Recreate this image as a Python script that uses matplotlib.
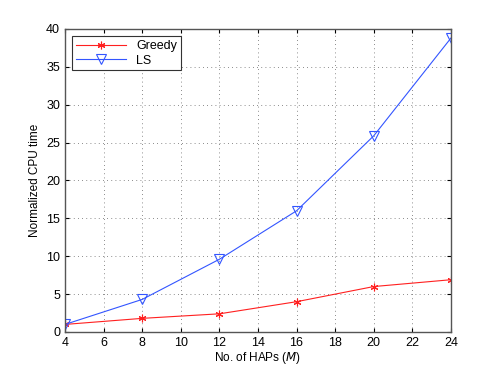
import matplotlib
matplotlib.use("Agg")
import matplotlib.pyplot as plt

plt.rcParams['font.family'] = ['Liberation Sans', 'DejaVu Sans']

M = [4, 8, 12, 16, 20, 24]
greedy = [1.0, 1.8, 2.4, 4.0, 6.0, 6.9]
ls = [1.0, 4.3, 9.6, 16.0, 25.9, 38.8]
xticks = [4, 6, 8, 10, 12, 14, 16, 18, 20, 22, 24]
yticks = [0, 5, 10, 15, 20, 25, 30, 35, 40]

fig = plt.figure(figsize=(4.98, 3.74), dpi=100)
ax = fig.add_axes([0.1305, 0.1123, 0.775, 0.8102])
ax.plot(M, greedy, color='#ff2020', marker=(6, 2, 0), markersize=5.5, linewidth=0.8,
        markeredgewidth=0.8, label='Greedy')
ax.plot(M, ls, color='#3355ff', marker='v', markersize=7, linewidth=0.8,
        markerfacecolor='none', markeredgewidth=0.8, label='LS')
ax.set_xlim(4, 24)
ax.set_ylim(0, 40)
ax.set_xticks(xticks)
ax.set_yticks(yticks)
ax.grid(True, linestyle=(0, (1, 4)), color='#666666', linewidth=0.6)
ax.tick_params(direction='in', top=True, right=True, labelsize=9, length=3)
for s in ax.spines.values():
    s.set_color('#555555')
    s.set_linewidth(1.0)
ax.set_xlabel('No. of HAPs ($\\mathit{M}$)', fontsize=8.5, labelpad=1)
ax.set_ylabel('Normalized CPU time', fontsize=8.5, labelpad=4)
leg = ax.legend(loc='upper left', fontsize=9, fancybox=False, framealpha=1,
                edgecolor='#333333', borderpad=0.3, handlelength=4,
                labelspacing=0.2, borderaxespad=0.6)
leg.get_frame().set_linewidth(0.8)
fig.savefig('out.png', dpi=100)
